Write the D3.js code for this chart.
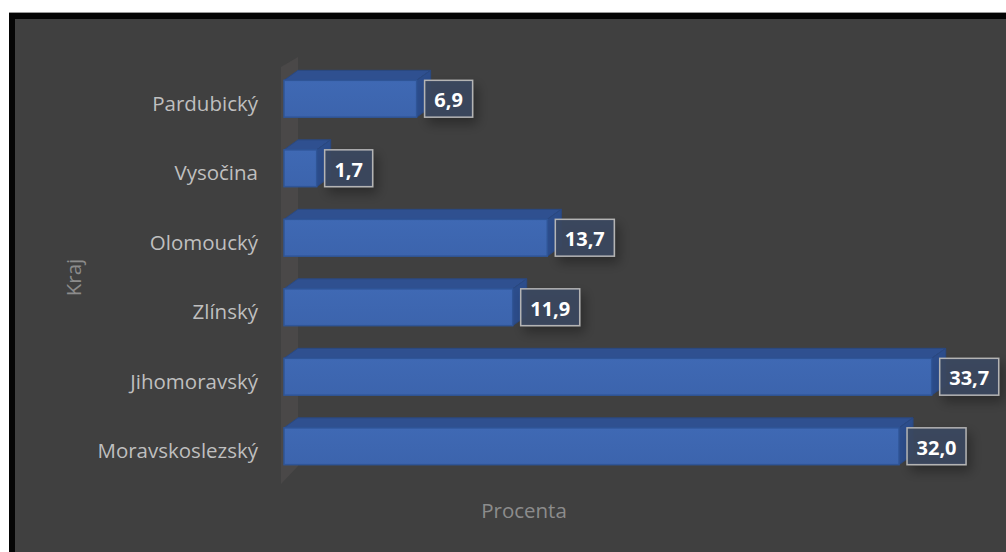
<!DOCTYPE html>
<html>
<head>
<meta charset="utf-8">
<script src="https://cdn.jsdelivr.net/npm/d3@7"></script>
<style>
  html, body { margin: 0; padding: 0; background: #ffffff; }
  svg { display: block; }
</style>
</head>
<body>
<svg id="chart" width="1006" height="552"></svg>
<script>
// Share of respondents by region (percent)
const categories = ["Pardubický", "Vysočina", "Olomoucký", "Zlínský", "Jihomoravský", "Moravskoslezský"];
const values = [6.9, 1.7, 13.7, 11.9, 33.7, 32.0];
const xDomain = [0, 35];
const yTitle = "Kraj";
const xTitle = "Procenta";

const svg = d3.select("#chart");
const W = 1006, H = 552;
const FONT = "'Open Sans', sans-serif";

// frame
svg.append("rect").attr("x", 9).attr("y", 12).attr("width", W).attr("height", H)
  .attr("fill", "#9a9a9a");
svg.append("rect").attr("x", 9).attr("y", 13).attr("width", W).attr("height", H)
  .attr("fill", "#050505");
svg.append("rect").attr("x", 15).attr("y", 19).attr("width", W).attr("height", H)
  .attr("fill", "#404040");

const x = d3.scaleLinear().domain(xDomain).range([284, 284 + 35 * 19.22]);
const y = d3.scaleBand().domain(categories).range([67, 484]).padding(0);

const depthX = 14, depthY = 10;
const barH = y.step() * 0.53;
const lift = 3;

const defs = svg.append("defs");
const grad = defs.append("linearGradient").attr("id", "front").attr("x1", 0).attr("y1", 0).attr("x2", 0).attr("y2", 1);
grad.append("stop").attr("offset", "0%").attr("stop-color", "#3f69b4");
grad.append("stop").attr("offset", "100%").attr("stop-color", "#3c64ad");
const shadow = defs.append("filter").attr("id", "shadow").attr("x", "-30%").attr("y", "-30%").attr("width", "180%").attr("height", "180%");
shadow.append("feGaussianBlur").attr("in", "SourceAlpha").attr("stdDeviation", 6);
shadow.append("feOffset").attr("dx", 4).attr("dy", 6).attr("result", "b");
shadow.append("feComponentTransfer").append("feFuncA").attr("type", "linear").attr("slope", 0.35);
const m = shadow.append("feMerge");
m.append("feMergeNode");
m.append("feMergeNode").attr("in", "SourceGraphic");

// side wall of the 3D plot
const x0 = x(0);
const wTop = y.range()[0], wBot = y.range()[1];
svg.append("path")
  .attr("d", `M${x0 - 3},${wTop} L${x0 + depthX},${wTop - depthY} L${x0 + depthX},${wBot - depthY - 8} L${x0 - 3},${wBot}Z`)
  .attr("fill", "#4a4848");

// category labels
svg.append("g").selectAll("text").data(categories).join("text")
  .attr("x", 258).attr("y", d => y(d) + y.bandwidth() / 2 + 1)
  .attr("text-anchor", "end").attr("dominant-baseline", "central")
  .attr("font-family", FONT).attr("font-size", 20.5)
  .attr("fill", "#bfbfbf").text(d => d);

// bars
const bars = svg.append("g").selectAll("g").data(categories.map((c, i) => ({ c, v: values[i] }))).join("g");
bars.each(function (d) {
  const g = d3.select(this);
  const xl = x(0), xr = x(d.v);
  const yt = y(d.c) + y.bandwidth() / 2 - lift - barH / 2, yb = yt + barH;
  // top face
  g.append("path")
    .attr("d", `M${xl},${yt} L${xl + depthX},${yt - depthY} L${xr + depthX},${yt - depthY} L${xr},${yt}Z`)
    .attr("fill", "#2f5090").attr("stroke", "#2a4880").attr("stroke-width", 1);
  // side face
  g.append("path")
    .attr("d", `M${xr},${yt} L${xr + depthX},${yt - depthY} L${xr + depthX},${yb - depthY} L${xr},${yb}Z`)
    .attr("fill", "#2c4d8c").attr("stroke", "#2a4880").attr("stroke-width", 1);
  // front face
  g.append("rect")
    .attr("x", xl).attr("y", yt).attr("width", xr - xl).attr("height", barH)
    .attr("fill", "url(#front)").attr("stroke", "#2f5597").attr("stroke-width", 1.5);
});

// value labels
const fmt = d3.formatLocale({ decimal: ",", thousands: " ", grouping: [3], currency: ["", ""] }).format(".1f");
bars.each(function (d) {
  const g = d3.select(this);
  const txt = fmt(d.v);
  const bw = txt.length === 3 ? 48 : 59;
  const bx = x(d.v) + 8;
  const by = y(d.c) + y.bandwidth() / 2 - lift - barH / 2;
  g.append("rect")
    .attr("x", bx).attr("y", by).attr("width", bw).attr("height", barH)
    .attr("fill", "#3b475f").attr("fill-opacity", 0.92)
    .attr("stroke", "#b4b4b4").attr("stroke-width", 1.5)
    .attr("filter", "url(#shadow)");
  g.append("text")
    .attr("x", bx + bw / 2).attr("y", by + barH / 2 + 1)
    .attr("text-anchor", "middle").attr("dominant-baseline", "central")
    .attr("font-family", FONT).attr("font-weight", 700).attr("font-size", 20)
    .attr("fill", "#ffffff").text(txt);
});

// axis titles
svg.append("text")
  .attr("transform", `translate(73,${(wTop + wBot) / 2 + 2}) rotate(-90)`)
  .attr("text-anchor", "middle").attr("dominant-baseline", "central")
  .attr("font-family", FONT).attr("font-size", 20.5)
  .attr("fill", "#8c8c8c").text(yTitle);
svg.append("text")
  .attr("x", 524).attr("y", 510)
  .attr("text-anchor", "middle").attr("dominant-baseline", "central")
  .attr("font-family", FONT).attr("font-size", 20.5)
  .attr("fill", "#8c8c8c").text(xTitle);
</script>
</body>
</html>
